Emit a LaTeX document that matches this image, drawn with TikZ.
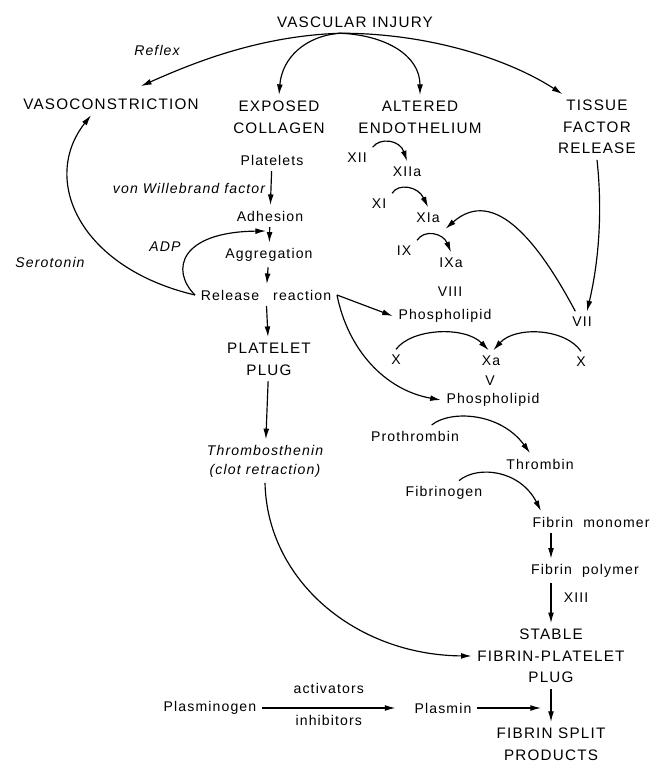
\documentclass[tikz,border=0pt]{standalone}
\usepackage{fontspec}
\setmainfont{Liberation Sans}[LetterSpace=8]
\usetikzlibrary{arrows.meta}
\begin{document}
\begin{tikzpicture}[
    x=0.03cm, y=-0.03cm,
    every node/.style={font=\fontsize{12}{16}\selectfont, inner sep=2pt,
                       outer sep=3pt, align=center},
    caps/.style={font=\fontsize{13}{18.5}\selectfont},
    note/.style={font=\fontsize{12}{16}\selectfont\itshape},
    flow/.style={->, line width=1pt},
    >={Latex[length=9pt,width=5pt]},
  ]
    \fill[white] (0,0) rectangle (659,763);
    % top row
    \node[caps] (inj) at (355,22) {VASCULAR INJURY};
    \node[caps] (vaso) at (111,104) {VASOCONSTRICTION};
    \node[caps] (coll) at (279,117) {EXPOSED\\COLLAGEN};
    \node[caps] (endo) at (420,117) {ALTERED\\ENDOTHELIUM};
    \node[caps] (tf) at (597,127) {TISSUE\\FACTOR\\RELEASE};
    \node[note] (reflex) at (157,50) {Reflex};
    % platelet side
    \node (plt) at (272,160) {Platelets};
    \node (adh) at (270,216) {Adhesion};
    \node (agg) at (269,255) {Aggregation};
    \node (rel) at (266,295) {Release\quad reaction};
    \node[caps] (plug) at (269,359) {PLATELET\\PLUG};
    \node[note] (thr) at (265,461) {Thrombosthenin\\(clot retraction)};
    \node[note] (adp) at (165,247) {ADP};
    \node[note] (sero) at (50,262) {Serotonin};
    % coagulation side
    \node (f12) at (357,158) {XII};
    \node (f12a) at (407,172) {XIIa};
    \node (f11) at (379,204) {XI};
    \node (f11a) at (428,218) {XIa};
    \node (f9) at (404,251) {IX};
    \node (f9a) at (451,263) {IXa};
    \node (f8) at (450,292) {VIII};
    \node (pl1) at (445,316) {Phospholipid};
    \node (f7) at (582,322) {VII};
    \node (f10l) at (396,360) {X};
    \node (f10a) at (491,361) {Xa};
    \node (f10r) at (581,362) {X};
    \node (f5) at (490,381) {V};
    \node (pl2) at (493,400) {Phospholipid};
    \node (pro) at (415,436) {Prothrombin};
    \node (thb) at (540,464) {Thrombin};
    \node (fbg) at (444,493) {Fibrinogen};
    \node (mono) at (591,522) {Fibrin\ \ monomer};
    \node (poly) at (585,571) {Fibrin\ \ polymer};
    \node[caps] (stab) at (551,656) {STABLE\\FIBRIN-PLATELET\\PLUG};
    \node[caps] (split) at (551,744) {FIBRIN SPLIT\\PRODUCTS};
    \node (pmn) at (443,708) {Plasmin};
    \node (pmg) at (210,708) {Plasminogen};

    \coordinate (hub) at ([xshift=-0.45cm]inj.south);
    \draw[flow] (hub) .. controls (260,36) and (195,62) .. ([xshift=0.9cm,yshift=0.2cm]vaso.north);
    \draw[flow] (hub) .. controls (305,36) and (282,58) .. (coll.north);
    \draw[flow] (hub) .. controls (385,35) and (420,55) .. (endo.north);
    \draw[flow] (hub) .. controls (430,33) and (510,60) .. ([xshift=0.3cm]tf.north west);

    \draw[flow] (plt) -- node[note, left]{von Willebrand factor} (adh);
    \draw[flow] (adh) -- (agg);
    \draw[flow] (agg) -- (rel);
    \draw[flow] (rel) -- (plug);
    \draw[flow] (plug) -- (thr);
    \coordinate (adpin) at (266,231);
    \draw[flow] (rel.west) .. controls (170,270) and (180,232) .. (adpin);
    \draw[flow] (rel.west) .. controls (80,268) and (40,180) .. ([xshift=-0.6cm]vaso.south);

    \draw[flow] (f12.north east) .. controls (380,137) and (400,140) .. (f12a.north);
    \draw[flow] (f11.north east) .. controls (398,183) and (418,186) .. (f11a.north);
    \draw[flow] (f9.north east) .. controls (424,229) and (443,233) .. (f9a.north);
    \draw[flow] (tf.south) .. controls (603,215) and (598,265) .. ([xshift=0.15cm]f7.north);
    \draw[flow] ([xshift=-0.2cm]f7.north) .. controls (540,245) and (495,185) .. (f11a.south east);
    \draw[flow] (rel.east) -- (pl1.west);
    \draw[flow] (rel.east) .. controls (348,350) and (385,390) .. (pl2.west);
    \draw[flow] (f10l.north) .. controls (412,328) and (465,326) .. ([xshift=-2pt]f10a.north);
    \draw[flow] (f10r.north) .. controls (565,328) and (515,326) .. ([xshift=2pt]f10a.north);
    \draw[flow] ([xshift=0.5cm]pro.north) .. controls (450,410) and (500,412) .. ([xshift=-0.3cm]thb.north);
    \draw[flow] ([xshift=0.45cm]fbg.north) .. controls (478,465) and (520,470) .. ([xshift=-1.5cm]mono.north);
    \draw[flow] (mono.south -| stab.north) -- (poly.north -| stab.north);
    \draw[flow] (poly.south -| stab.north) -- node[pos=0.35, right=6pt]{XIII} (stab.north);
    \draw[flow] (stab) -- (split);
    \draw[flow] (thr.south) .. controls (267,580) and (355,655) .. (stab.west);
    \draw[flow] (pmn) -- ([xshift=-0.3cm]pmn -| stab.south);
    \draw[flow] (pmg) -- node[above=7pt]{activators} node[below=1pt]{inhibitors} ([xshift=-0.4cm]pmn.west);
\end{tikzpicture}
\end{document}
